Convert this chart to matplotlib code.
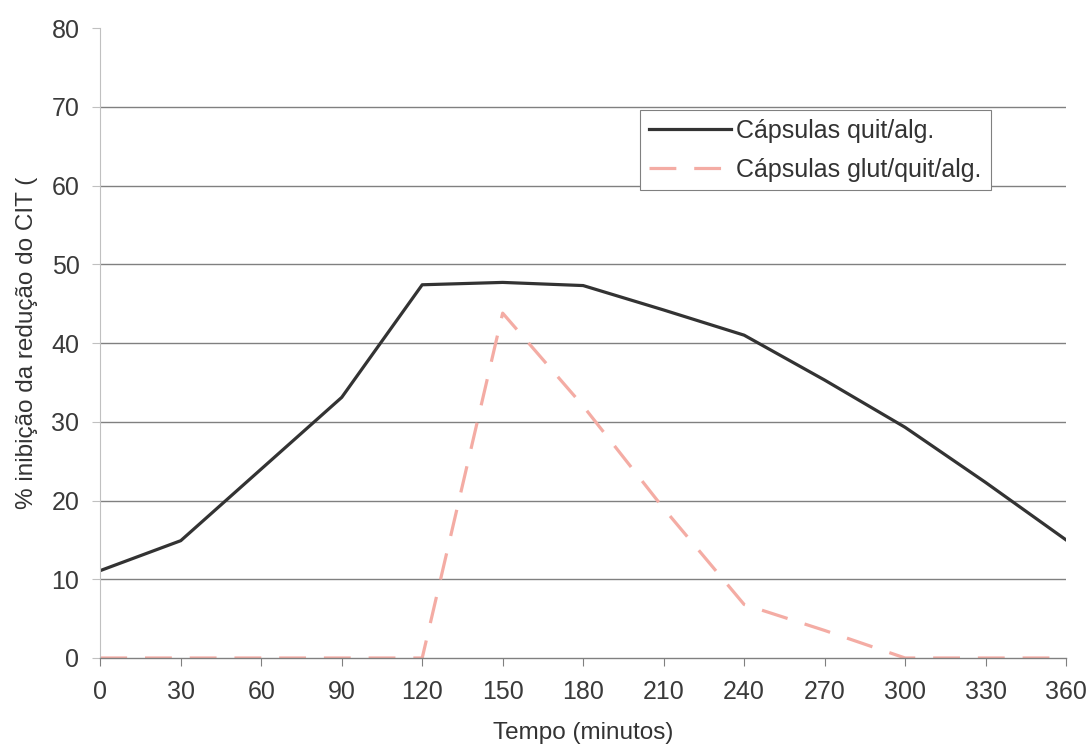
import matplotlib.pyplot as plt

plt.rcParams['font.family'] = ['Liberation Sans', 'DejaVu Sans']

# Time points (minutes) and % inhibition for each capsule type
tempo = [0, 30, 60, 90, 120, 150, 180, 210, 240, 270, 300, 330, 360]
quit_alg = [11.1, 14.9, 24.0, 33.1, 47.4, 47.7, 47.3, 44.2, 41.0, 35.3, 29.3, 22.3, 15.0]
glut_quit_alg = [0, 0, 0, 0, 0, 43.8, 32.0, 19.0, 6.8, 3.5, 0, 0, 0]
y_ticks = [0, 10, 20, 30, 40, 50, 60, 70, 80]

fig = plt.figure(figsize=(10.9, 7.49), dpi=100)
ax = fig.add_axes([0.092, 0.1215, 0.886, 0.841])

ax.plot(tempo, quit_alg, color='#333333', linewidth=2.3, label='Cápsulas quit/alg.')
ax.plot(tempo, glut_quit_alg, color='#f4aca4', linewidth=2.3, dashes=(8.4, 5.6),
        label='Cápsulas glut/quit/alg.')

ax.set_xlim(0, 360)
ax.set_ylim(0, 80)
ax.set_xticks(range(0, 361, 30))
ax.set_yticks(y_ticks)

# horizontal gridlines between the axis and the top
for yv in y_ticks[1:-1]:
    ax.axhline(yv, color='#808080', linewidth=1.0, zorder=0)

for side in ['top', 'right']:
    ax.spines[side].set_visible(False)
ax.spines['left'].set_color('#c0c0c0')
ax.spines['left'].set_linewidth(0.8)
ax.spines['bottom'].set_color('#808080')
ax.spines['bottom'].set_linewidth(1.0)

ax.tick_params(axis='both', labelsize=18, colors='#3a3a3a', length=6, width=0.8)
ax.tick_params(axis='x', color='#808080', pad=10)
ax.tick_params(axis='y', color='#c0c0c0', pad=9)

ax.set_xlabel('Tempo (minutos)', fontsize=17.5, color='#333333', labelpad=13)
ax.set_ylabel('% inibição da redução do CIT (', fontsize=17.5, color='#333333',
              labelpad=10)

leg = ax.legend(loc='upper left', bbox_to_anchor=(0.559, 0.870), borderaxespad=0,
                fontsize=18, frameon=True, fancybox=False, handlelength=3.3,
                handletextpad=0.2, borderpad=0.35, labelspacing=0.6,
                labelcolor='#333333', framealpha=1)
leg.get_frame().set_edgecolor('#808080')
leg.get_frame().set_linewidth(0.8)

plt.savefig('out.png', dpi=100, facecolor='white')
plt.close()
